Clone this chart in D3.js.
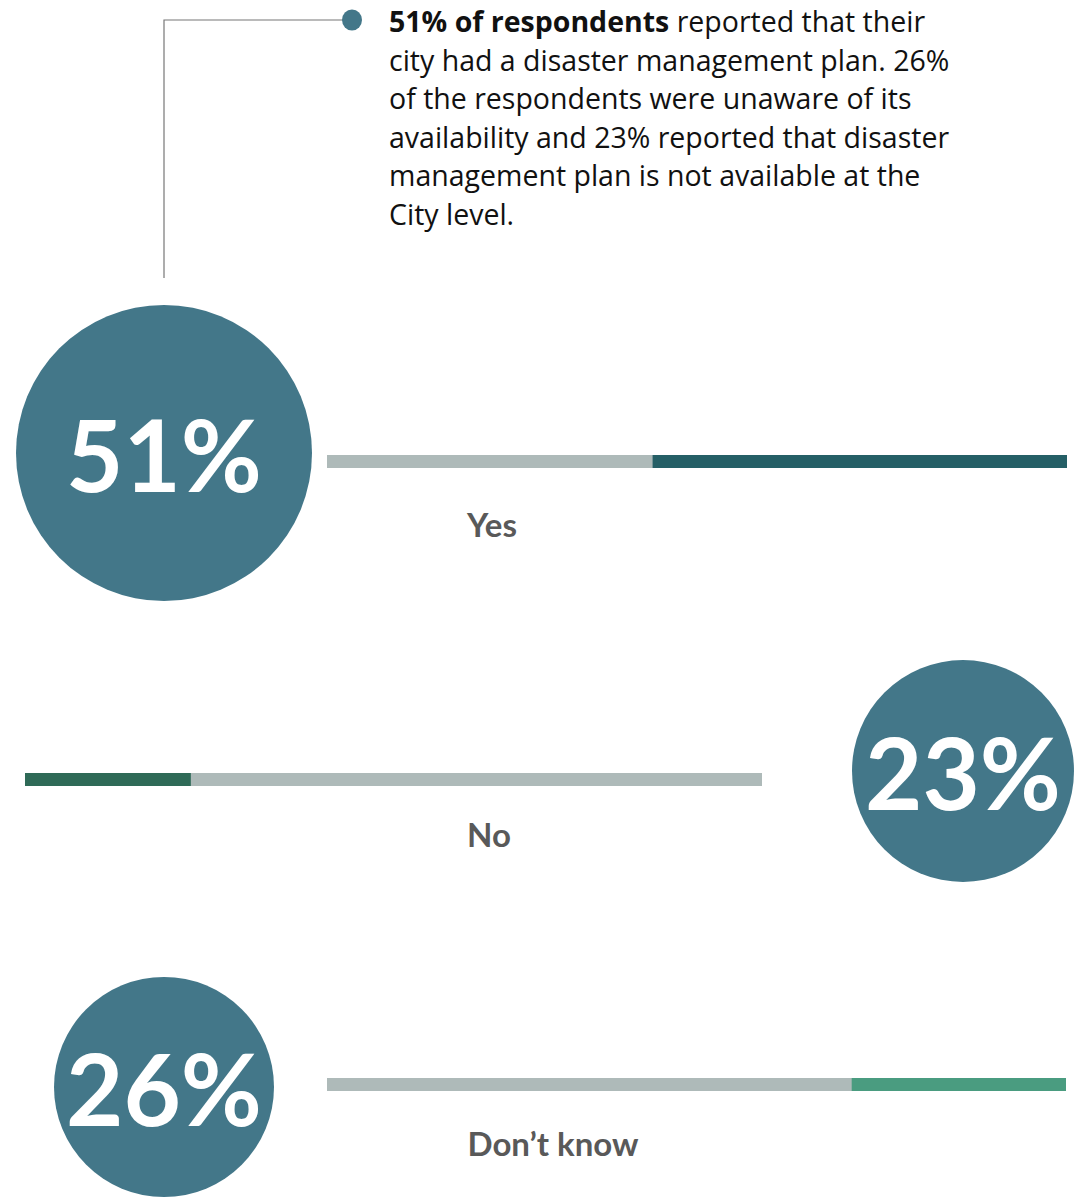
<!DOCTYPE html>
<html>
<head>
<meta charset="utf-8">
<script src="https://cdn.jsdelivr.net/npm/d3@7"></script>
<style>
  html, body { margin: 0; padding: 0; background: #fff; }
  svg { display: block; }
</style>
</head>
<body>
<svg id="chart" width="1077" height="1202"></svg>
<script>
// values as shown in the graphic
const categories = ["Yes", "No", "Don\u2019t know"];
const percentages = [51, 23, 26];
// coloured share of each bar, as drawn in the picture
const barShares = [56, 22.5, 29];
const noteLines = [
    ["51% of respondents", " reported that their"],
    ["", "city had a disaster management plan. 26%"],
    ["", "of the respondents were unaware of its"],
    ["", "availability and 23% reported that disaster"],
    ["", "management plan is not available at the"],
    ["", "City level."]
];

// layout of each row (positions only)
const rows = [
    {cx: 164, cy: 453, r: 148, barX: [327, 1067], barY: 455, side: "right", color: "#255f66", labelX: 492, labelY: 537},
    {cx: 963, cy: 771, r: 111, barX: [25, 762], barY: 773, side: "left", color: "#2f6a57", labelX: 489, labelY: 847},
    {cx: 164, cy: 1087, r: 110, barX: [327, 1066], barY: 1078, side: "right", color: "#4a9c80", labelX: 553, labelY: 1156}
];

const circleColor = "#437789";
const trackColor = "#aebab9";
const barHeight = 13;
const font = "Lato, 'Open Sans', sans-serif";
const noteFont = "'Open Sans', 'Noto Sans', sans-serif";

const svg = d3.select("#chart");

// leader line + dot
svg.append("path")
    .attr("d", "M164,278V20H345")
    .attr("fill", "none")
    .attr("stroke", "#777")
    .attr("stroke-width", 1.2);
svg.append("ellipse")
    .attr("cx", 352).attr("cy", 20)
    .attr("rx", 10).attr("ry", 10.5)
    .attr("fill", circleColor);

// note text
const note = svg.append("text")
    .attr("font-family", noteFont)
    .attr("font-size", 28.5)
    .attr("fill", "#111");
noteLines.forEach(function (line, i) {
    const t = note.append("tspan")
        .attr("x", 389)
        .attr("y", 32 + i * 38.5);
    if (line[0]) {
        t.append("tspan").attr("font-weight", "bold").text(line[0]);
    }
    t.append("tspan").text(line[1]);
});

const data = categories.map((c, i) => ({
    label: c,
    pct: percentages[i],
    share: barShares[i],
    layout: rows[i]
}));

const groups = svg.selectAll("g.row")
    .data(data)
    .enter().append("g")
    .attr("class", "row");

// track
groups.append("rect")
    .attr("x", d => d.layout.barX[0])
    .attr("y", d => d.layout.barY)
    .attr("width", d => d.layout.barX[1] - d.layout.barX[0])
    .attr("height", barHeight)
    .attr("fill", trackColor);

// coloured share
groups.append("rect")
    .attr("x", function (d) {
        const x = d3.scaleLinear().domain([0, 100]).range(d.layout.barX);
        return d.layout.side === "left" ? x(0) : x(100 - d.share);
    })
    .attr("y", d => d.layout.barY)
    .attr("width", function (d) {
        const x = d3.scaleLinear().domain([0, 100]).range(d.layout.barX);
        return x(d.share) - x(0);
    })
    .attr("height", barHeight)
    .attr("fill", d => d.layout.color);

// category label
groups.append("text")
    .attr("x", d => d.layout.labelX)
    .attr("y", d => d.layout.labelY)
    .attr("text-anchor", "middle")
    .attr("font-family", font)
    .attr("font-size", 33)
    .attr("font-weight", "bold")
    .attr("fill", "#595959")
    .text(d => d.label);

// circle + percentage
groups.append("circle")
    .attr("cx", d => d.layout.cx)
    .attr("cy", d => d.layout.cy)
    .attr("r", d => d.layout.r)
    .attr("fill", circleColor);

groups.append("text")
    .attr("x", d => d.layout.cx)
    .attr("y", d => d.layout.cy + 39)
    .attr("text-anchor", "middle")
    .attr("font-family", font)
    .attr("font-size", 99)
    .attr("font-weight", "bold")
    .attr("fill", "#fff")
    .text(d => d.pct + "%");
</script>
</body>
</html>
